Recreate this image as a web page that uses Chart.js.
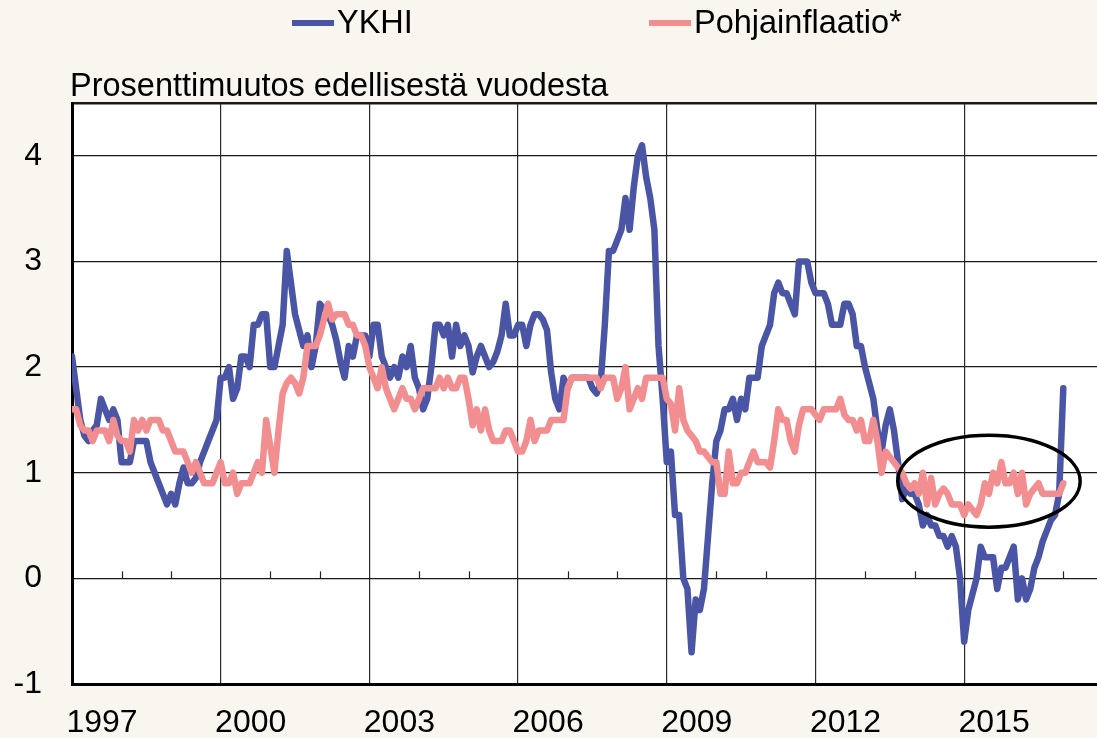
<!DOCTYPE html>
<html>
<head>
<meta charset="utf-8">
<script src="https://cdn.jsdelivr.net/npm/chart.js@4.4.1/dist/chart.umd.min.js"></script>
<style>
  html, body { margin: 0; padding: 0; background: #f9f5ef; }
  canvas { display: block; }
</style>
</head>
<body>
<canvas id="chart" width="1097" height="738"></canvas>
<script>
// monthly data, Jan 1997 .. Jan 2017
const startYear = 1997;
const ykhi = [
  2.1, 1.8, 1.5, 1.35, 1.3, 1.4, 1.45, 1.7, 1.6, 1.5, 1.6, 1.5,
  1.1, 1.1, 1.1, 1.3, 1.3, 1.3, 1.3, 1.1, 1.0, 0.9, 0.8, 0.7,
  0.8, 0.7, 0.9, 1.05, 0.9, 0.9, 0.95, 1.1, 1.2, 1.3, 1.4, 1.5,
  1.9, 1.9, 2.0, 1.7, 1.8, 2.1, 2.1, 2.0, 2.4, 2.4, 2.5, 2.5,
  2.0, 2.0, 2.2, 2.4, 3.1, 2.8, 2.5, 2.35, 2.2, 2.3, 2.0, 2.2,
  2.6, 2.55, 2.5, 2.4, 2.25, 2.05, 1.9, 2.2, 2.1, 2.3, 2.3, 2.3,
  2.1, 2.4, 2.4, 2.1, 2.0, 1.9, 2.0, 1.9, 2.1, 2.0, 2.2, 1.9,
  1.8, 1.6, 1.7, 2.0, 2.4, 2.4, 2.3, 2.4, 2.1, 2.4, 2.2, 2.3,
  2.2, 1.95, 2.1, 2.2, 2.1, 2.0, 2.05, 2.15, 2.3, 2.6, 2.3, 2.3,
  2.4, 2.4, 2.2, 2.4, 2.5, 2.5, 2.45, 2.35, 1.95, 1.7, 1.6, 1.9,
  1.8, 1.9, 1.9, 1.9, 1.9, 1.9, 1.8, 1.75, 1.85, 2.4, 3.1, 3.1,
  3.2, 3.3, 3.6, 3.3, 3.7, 4.0, 4.1, 3.8, 3.6, 3.3, 2.2, 1.7,
  1.1, 1.2, 0.6, 0.6, 0.0, -0.1, -0.7, -0.2, -0.3, -0.1, 0.4, 0.9,
  1.3, 1.4, 1.6, 1.6, 1.7, 1.5, 1.7, 1.6, 1.9, 1.9, 1.9, 2.2,
  2.3, 2.4, 2.7, 2.8, 2.7, 2.7, 2.6, 2.5, 3.0, 3.0, 3.0, 2.8,
  2.7, 2.7, 2.7, 2.6, 2.4, 2.4, 2.4, 2.6, 2.6, 2.5, 2.2, 2.2,
  2.0, 1.85, 1.7, 1.4, 1.2, 1.45, 1.6, 1.4, 1.1, 0.75, 0.85, 0.8,
  0.8, 0.7, 0.5, 0.6, 0.5, 0.5, 0.4, 0.4, 0.3, 0.4, 0.3, 0.0,
  -0.6, -0.3, -0.15, 0.0, 0.3, 0.2, 0.2, 0.2, -0.1, 0.1, 0.1, 0.2,
  0.3, -0.2, 0.0, -0.2, -0.1, 0.1, 0.2, 0.35, 0.45, 0.55, 0.6, 0.8,
  1.8
];
const pohjainflaatio = [
  1.6, 1.6, 1.45, 1.4, 1.4, 1.3, 1.4, 1.4, 1.4, 1.3, 1.5, 1.35,
  1.3, 1.3, 1.2, 1.5, 1.4, 1.5, 1.4, 1.5, 1.5, 1.5, 1.4, 1.4,
  1.3, 1.2, 1.2, 1.2, 1.1, 1.0, 1.1, 1.0, 0.9, 0.9, 0.9, 1.0,
  1.1, 0.9, 0.9, 1.0, 0.8, 0.9, 0.9, 0.9, 1.0, 1.1, 1.0, 1.5,
  1.25, 1.0, 1.4, 1.75, 1.85, 1.9, 1.85, 1.75, 1.9, 2.2, 2.2, 2.2,
  2.3, 2.45, 2.6, 2.45, 2.5, 2.5, 2.5, 2.4, 2.4, 2.3, 2.3, 2.2,
  2.0, 1.9, 1.8, 2.0, 1.8, 1.7, 1.6, 1.7, 1.8, 1.7, 1.7, 1.6,
  1.7, 1.8, 1.8, 1.8, 1.8, 1.9, 1.8, 1.9, 1.8, 1.8, 1.9, 1.9,
  1.7, 1.45, 1.6, 1.4, 1.6, 1.4, 1.3, 1.3, 1.3, 1.4, 1.4, 1.3,
  1.2, 1.2, 1.3, 1.5, 1.3, 1.4, 1.4, 1.4, 1.5, 1.5, 1.5, 1.5,
  1.8, 1.9, 1.9, 1.9, 1.9, 1.9, 1.9, 1.9, 1.8, 1.9, 1.9, 1.9,
  1.7, 1.8, 2.0, 1.6, 1.7, 1.8, 1.7, 1.9, 1.9, 1.9, 1.9, 1.9,
  1.7, 1.65, 1.4, 1.8, 1.5, 1.4, 1.35, 1.3, 1.2, 1.2, 1.15, 1.1,
  1.1, 0.8, 0.8, 1.2, 0.9, 0.9, 1.0, 1.0, 1.1, 1.2, 1.1, 1.1,
  1.1, 1.05, 1.3, 1.6, 1.5, 1.5, 1.3, 1.2, 1.45, 1.6, 1.6, 1.6,
  1.55, 1.5, 1.6, 1.6, 1.6, 1.6, 1.7, 1.55, 1.5, 1.5, 1.4, 1.5,
  1.3, 1.3, 1.5, 1.3, 1.0, 1.2, 1.15, 1.1, 1.05, 1.0, 0.9, 0.85,
  0.9, 0.8, 1.0, 0.7, 0.95, 0.7, 0.8, 0.85, 0.8, 0.7, 0.7, 0.7,
  0.6, 0.7, 0.65, 0.6, 0.7, 0.9, 0.8, 1.0, 0.9, 1.1, 0.9, 0.9,
  1.0, 0.8, 1.0, 0.7, 0.8, 0.85, 0.9, 0.8, 0.8, 0.8, 0.8, 0.8,
  0.9
];
const seriesNames = ['YKHI', 'Pohjainflaatio*'];
const seriesColors = ['#4a56a5', '#f28d90'];
const labelYears = [1997, 2000, 2003, 2006, 2009, 2012, 2015];
const yTicks = [-1, 0, 1, 2, 3, 4];
const unitText = 'Prosenttimuutos edellisestä vuodesta';
// circled area: centre (year, value) and radii
const ring = { x: 2015.5, y: 0.92, rx: 1.84, ry: 0.435 };

const FONT = '"Liberation Sans", Arial, sans-serif';

function toPoints(arr) {
  return arr.map((v, i) => ({ x: startYear + i / 12, y: v }));
}

const decor = {
  id: 'decor',
  beforeDraw(chart) {
    const { ctx, chartArea: a } = chart;
    ctx.save();
    ctx.fillStyle = '#f9f5ef';
    ctx.fillRect(0, 0, chart.width, chart.height);
    ctx.fillStyle = '#ffffff';
    ctx.fillRect(a.left, a.top, a.right - a.left, a.bottom - a.top);
    ctx.restore();
  },
  beforeDatasetsDraw(chart) {
    // small year ticks on the zero line
    const { ctx, scales: { x, y } } = chart;
    const y0 = y.getPixelForValue(0);
    ctx.save();
    ctx.strokeStyle = '#222';
    ctx.lineWidth = 1.2;
    for (let yr = startYear + 1; yr <= 2017; yr++) {
      if ((yr - startYear) % 3 === 0) continue;
      const px = Math.round(x.getPixelForValue(yr)) + 0.5;
      ctx.beginPath();
      ctx.moveTo(px, y0);
      ctx.lineTo(px, y0 - 7);
      ctx.stroke();
    }
    ctx.restore();
  },
  afterDatasetsDraw(chart) {
    const { ctx, scales: { x, y } } = chart;
    const cx = x.getPixelForValue(ring.x);
    const cy = y.getPixelForValue(ring.y);
    const rx = x.getPixelForValue(ring.x + ring.rx) - cx;
    const ry = cy - y.getPixelForValue(ring.y + ring.ry);
    ctx.save();
    ctx.strokeStyle = '#000';
    ctx.lineWidth = 3.5;
    ctx.beginPath();
    ctx.ellipse(cx, cy, rx, ry, 0, 0, Math.PI * 2);
    ctx.stroke();
    ctx.restore();
  },
  afterDraw(chart) {
    const { ctx } = chart;
    ctx.save();
    ctx.fillStyle = '#000';
    ctx.textBaseline = 'alphabetic';
    ctx.font = '32.5px ' + FONT;
    // legend
    const legendX = [292, 649];
    seriesNames.forEach((name, i) => {
      ctx.fillStyle = seriesColors[i];
      ctx.fillRect(legendX[i], 20, 42, 6);
      ctx.fillStyle = '#000';
      ctx.fillText(name, legendX[i] + 45, 33);
    });
    // unit text
    ctx.font = '32.5px ' + FONT;
    ctx.fillText(unitText, 70, 96);
    ctx.restore();
  }
};

new Chart(document.getElementById('chart'), {
  type: 'line',
  data: {
    datasets: [
      {
        label: seriesNames[0],
        data: toPoints(ykhi),
        borderColor: seriesColors[0],
        borderWidth: 6.5,
        pointRadius: 0,
        tension: 0,
        borderJoinStyle: 'round',
        borderCapStyle: 'round',
        order: 2
      },
      {
        label: seriesNames[1],
        data: toPoints(pohjainflaatio),
        borderColor: seriesColors[1],
        borderWidth: 6.5,
        pointRadius: 0,
        tension: 0,
        borderJoinStyle: 'round',
        borderCapStyle: 'round',
        order: 1
      }
    ]
  },
  options: {
    responsive: false,
    animation: false,
    layout: { padding: { top: 103, left: 0, right: 0, bottom: 0 } },
    plugins: {
      legend: { display: false },
      title: { display: false },
      tooltip: { enabled: false }
    },
    scales: {
      x: {
        type: 'linear',
        min: startYear,
        max: 2017.68,
        afterBuildTicks(scale) {
          const t = [];
          for (let yr = startYear; yr <= 2017; yr++) t.push({ value: yr });
          scale.ticks = t;
        },
        afterFit(scale) { scale.height = 54; },
        grid: {
          drawTicks: false,
          lineWidth: 1.2,
          color: ctx => (ctx.tick && ctx.tick.value !== startYear && labelYears.includes(ctx.tick.value)) ? '#2a2a2a' : 'rgba(0,0,0,0)'
        },
        border: { display: true, color: '#000', width: 3 },
        ticks: {
          autoSkip: false,
          maxRotation: 0,
          labelOffset: 30,
          padding: 20,
          color: '#000',
          font: { family: FONT, size: 32 },
          callback: v => labelYears.includes(v) ? String(v) : ''
        }
      },
      y: {
        min: -1,
        max: 4.5,
        afterBuildTicks(scale) {
          scale.ticks = yTicks.concat([4.5]).map(v => ({ value: v }));
        },
        afterFit(scale) { scale.width = 72; },
        grid: {
          drawTicks: false,
          color: '#1a1a1a',
          lineWidth: ctx => (ctx.tick && ctx.tick.value === 4.5) ? 2.5 : 1.2
        },
        border: { display: true, color: '#000', width: 3 },
        ticks: {
          padding: 30,
          color: '#000',
          font: { family: FONT, size: 32 },
          callback: v => yTicks.includes(v) ? String(v) : ''
        }
      }
    }
  },
  plugins: [decor]
});
</script>
</body>
</html>
